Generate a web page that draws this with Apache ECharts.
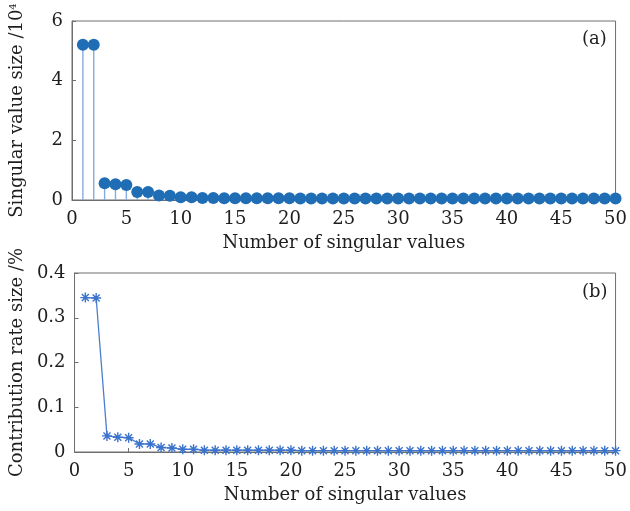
<!DOCTYPE html>
<html>
<head>
<meta charset="utf-8">
<script src="https://cdn.jsdelivr.net/npm/echarts@6/dist/echarts.min.js"></script>
<style>
  html, body { margin: 0; padding: 0; background: #fff; }
  #chart { width: 630px; height: 511px; }
</style>
</head>
<body>
<div id="chart"></div>
<script>
// Index of each singular value (1..50)
const indices = [1,2,3,4,5,6,7,8,9,10,11,12,13,14,15,16,17,18,19,20,21,22,23,24,25,
  26,27,28,29,30,31,32,33,34,35,36,37,38,39,40,41,42,43,44,45,46,47,48,49,50];

// Singular value magnitudes, in units of 10^4
const singularValues = [5.2,5.2,0.56,0.53,0.5,0.27,0.27,0.15,0.14,0.09,0.09,0.07,0.07,0.06,0.06,
  0.06,0.06,0.06,0.06,0.06,0.05,0.05,0.05,0.05,0.05,0.05,0.05,0.05,0.05,0.05,
  0.05,0.05,0.05,0.05,0.05,0.05,0.05,0.05,0.05,0.05,0.05,0.05,0.05,0.05,0.05,
  0.05,0.05,0.05,0.05,0.05];

// Contribution rate of each singular value, in %
const contribution = [0.345,0.344,0.036,0.033,0.032,0.018,0.018,0.01,0.009,0.006,0.006,0.004,0.004,0.004,0.004,
  0.004,0.004,0.004,0.004,0.004,0.003,0.003,0.003,0.003,0.003,0.003,0.003,0.003,0.003,0.003,
  0.003,0.003,0.003,0.003,0.003,0.003,0.003,0.003,0.003,0.003,0.003,0.003,0.003,0.003,0.003,
  0.003,0.003,0.003,0.003,0.003];

const xTicks = [0,5,10,15,20,25,30,35,40,45,50];
const yTicksA = [0,2,4,6];
const yTicksB = [0,0.1,0.2,0.3,0.4];

const FONT = '"DejaVu Serif", "Liberation Serif", serif';
const FS = 18;
const AXIS_COLOR = '#6e6e6e';
const TEXT_COLOR = '#1e1e1e';

const stemPts = indices.map((x, i) => [x, singularValues[i]]);
const ratePts = indices.map((x, i) => [x, contribution[i]]);

// Eight-armed asterisk marker
const asterisk = 'path://M0,-10L0,10M-10,0L10,0M-7,-7L7,7M-7,7L7,-7';

function xAxis(gridIndex) {
  return {
    type: 'value', gridIndex, min: 0, max: 50, interval: 5,
    name: 'Number of singular values', nameLocation: 'middle', nameGap: 34,
    nameTextStyle: { fontFamily: FONT, fontSize: FS, color: TEXT_COLOR },
    axisLine: { show: true, onZero: false, lineStyle: { color: AXIS_COLOR } },
    axisTick: { show: true, inside: true, length: 4, lineStyle: { color: AXIS_COLOR } },
    axisLabel: { fontFamily: FONT, fontSize: FS, color: TEXT_COLOR, margin: 10,
      formatter: v => xTicks.includes(v) ? String(v) : '' },
    splitLine: { show: false }
  };
}

function yAxis(gridIndex, max, interval, name, fmt) {
  return {
    type: 'value', gridIndex, min: 0, max, interval,
    name, nameLocation: 'middle', nameGap: 46,
    nameTextStyle: { fontFamily: FONT, fontSize: FS, color: TEXT_COLOR,
      rich: { sup: { fontFamily: FONT, fontSize: 10, color: TEXT_COLOR, verticalAlign: 'top', padding: [0,0,8,0] } } },
    axisLine: { show: true, lineStyle: { color: AXIS_COLOR } },
    axisTick: { show: true, inside: true, length: 4, lineStyle: { color: AXIS_COLOR } },
    axisLabel: { fontFamily: FONT, fontSize: FS, color: TEXT_COLOR, margin: 9, formatter: fmt },
    splitLine: { show: false }
  };
}

const chart = echarts.init(document.getElementById('chart'), null, { renderer: 'canvas' });
chart.setOption({
  animation: false,
  backgroundColor: '#fff',
  grid: [
    { left: 70, top: 21, width: 551, height: 179, show: true, borderColor: AXIS_COLOR, borderWidth: 1 },
    { left: 70, top: 273, width: 551, height: 179, show: true, borderColor: AXIS_COLOR, borderWidth: 1 }
  ],
  xAxis: [xAxis(0), xAxis(1)],
  yAxis: [
    yAxis(0, 6, 2, 'Singular value size /10{sup|4}', v => yTicksA.includes(v) ? String(v) : ''),
    yAxis(1, 0.4, 0.1, 'Contribution rate size /%', v => {
      const t = yTicksB.find(d => Math.abs(d - v) < 1e-9);
      return t === undefined ? '' : (t === 0 ? '0' : t.toFixed(1));
    })
  ],
  graphic: [
    { type: 'text', left: 582, top: 30, style: { text: '(a)', font: FS + 'px ' + FONT, fill: TEXT_COLOR } },
    { type: 'text', left: 582, top: 283, style: { text: '(b)', font: FS + 'px ' + FONT, fill: TEXT_COLOR } }
  ],
  series: [
    {
      // stems of the stem plot
      type: 'bar', xAxisIndex: 0, yAxisIndex: 0, data: stemPts,
      barWidth: 1.4, itemStyle: { color: '#86abe0', opacity: 1 }, silent: true, z: 1
    },
    {
      type: 'scatter', xAxisIndex: 0, yAxisIndex: 0, data: stemPts,
      symbol: 'circle', symbolSize: 12, itemStyle: { color: '#1f6db5', opacity: 1 }, z: 2
    },
    {
      type: 'line', xAxisIndex: 1, yAxisIndex: 1, data: ratePts,
      symbol: asterisk, symbolSize: 10, showSymbol: true,
      lineStyle: { color: '#4a7fd0', width: 1.3 },
      itemStyle: { color: 'none', borderColor: '#3a72cc', borderWidth: 1.4 },
      z: 2
    }
  ]
});
</script>
</body>
</html>
